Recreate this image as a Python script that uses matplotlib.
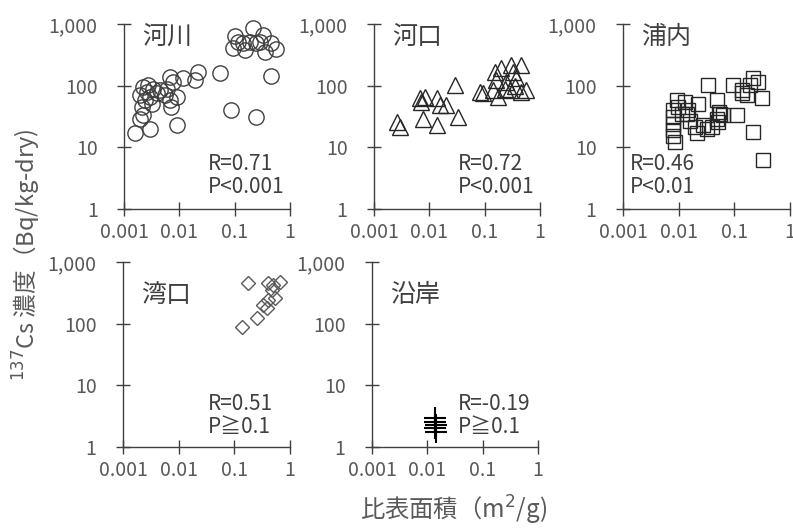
import matplotlib.pyplot as plt

plt.rcParams['font.family'] = ['Noto Sans CJK JP', 'DejaVu Sans']

# 河川 (circles)
river_x = [0.10, 0.115, 0.093, 0.141, 0.214, 0.324, 0.246, 0.186, 0.151, 0.347, 0.563, 0.458, 0.282,
           0.054, 0.458, 0.087, 0.246,
           0.0218, 0.019, 0.0117, 0.0077, 0.0067, 0.0089, 0.0067, 0.0072, 0.0055, 0.0059, 0.0089,
           0.00223, 0.00274, 0.00337, 0.00388, 0.00294, 0.00239, 0.00208, 0.00223, 0.00194,
           0.00294, 0.00158, 0.00256, 0.00194, 0.00315, 0.00446]
river_y = [638, 515, 403, 485, 851, 662, 485, 515, 378, 355, 388, 485, 515,
           158, 143, 40, 31,
           168, 123, 131, 115, 139, 66, 58, 45, 70, 90, 23,
           95, 102, 90, 75, 66, 58, 45, 33, 29,
           20, 17, 79, 70, 51, 85]

# 河口 (triangles)
estuary_x = [0.00294, 0.0026, 0.0067, 0.0083, 0.0072, 0.0135, 0.0155, 0.0204, 0.0077, 0.0135,
             0.033, 0.0288, 0.081, 0.093, 0.151, 0.200, 0.303, 0.458, 0.324, 0.163, 0.246,
             0.372, 0.563, 0.458, 0.174, 0.282, 0.141, 0.23, 0.35]
estuary_y = [21, 26, 62, 66, 55, 62, 48, 48, 29, 23,
             31, 102, 79, 75, 168, 191, 215, 215, 168, 123, 115,
             131, 85, 79, 66, 85, 85, 89, 100]

# 浦内 (squares)
inlet_x = [0.0080, 0.0080, 0.0080, 0.0080, 0.0080, 0.0086, 0.0092, 0.0098, 0.0113, 0.0130, 0.0139,
           0.0225, 0.0196, 0.0210, 0.0277, 0.0318, 0.0391, 0.048, 0.055, 0.051, 0.063, 0.110,
           0.034, 0.048, 0.095, 0.135, 0.166, 0.19, 0.218, 0.268, 0.309, 0.218, 0.330,
           0.0149, 0.016, 0.14, 0.052]
inlet_y = [40, 31, 24, 19, 15, 12, 58, 45, 35, 55, 35,
           51, 21, 17, 23, 20, 21, 29, 35, 26, 33, 33,
           102, 58, 102, 85, 70, 102, 131, 115, 62, 18, 6.2,
           40, 27, 75, 38]

# 湾口 (diamonds)
bay_x = [0.178, 0.406, 0.499, 0.659, 0.468, 0.406, 0.330, 0.536, 0.380, 0.251, 0.135]
bay_y = [452, 452, 424, 480, 351, 242, 201, 258, 178, 122, 89]

# 沿岸 (plus)
coast_x = [0.0140, 0.0135, 0.0145, 0.0140, 0.0142]
coast_y = [2.97, 2.58, 2.28, 2.02, 1.78]

panels = [
    ('河川', river_x, river_y, 'o', 11, '#404040', 'R=0.71', 'P<0.001', 0.506),
    ('河口', estuary_x, estuary_y, '^', 11.5, '#262626', 'R=0.72', 'P<0.001', 0.506),
    ('浦内', inlet_x, inlet_y, 's', 10, '#262626', 'R=0.46', 'P<0.01', 0.04),
    ('湾口', bay_x, bay_y, 'D', 7.5, '#595959', 'R=0.51', 'P≧0.1', 0.51),
    ('沿岸', coast_x, coast_y, '+', 16, '#000000', 'R=-0.19', 'P≧0.1', 0.518),
]

# axes rectangles in figure fraction
rects = [
    [0.1564, 0.6049, 0.2093, 0.3497],
    [0.4716, 0.6049, 0.2093, 0.3497],
    [0.7856, 0.6049, 0.2106, 0.3497],
    [0.1551, 0.1550, 0.2106, 0.3497],
    [0.4691, 0.1550, 0.2093, 0.3497],
]

title_y = [0.93, 0.93, 0.93, 0.82, 0.82]
text_y = [(0.211, 0.086), (0.211, 0.086), (0.211, 0.086), (0.20, 0.076), (0.20, 0.076)]

axis_col = '#404040'
text_col = '#595959'

fig = plt.figure(figsize=(7.93, 5.29), dpi=100)

for i, (name, xs, ys, mk, ms, col, rtxt, ptxt, tx) in enumerate(panels):
    ax = fig.add_axes(rects[i])
    if mk == '+':
        ax.plot(xs, ys, linestyle='none', marker=mk, ms=ms, mew=1.5, color=col, clip_on=False)
    else:
        ax.plot(xs, ys, linestyle='none', marker=mk, ms=ms, mfc='none', mec=col, mew=1, clip_on=False)
    ax.set_xscale('log')
    ax.set_yscale('log')
    ax.set_xlim(0.001, 1)
    ax.set_ylim(1, 1000)
    ax.set_xticks([0.001, 0.01, 0.1, 1])
    ax.set_xticklabels(['0.001', '0.01', '0.1', '1'])
    ax.set_yticks([1, 10, 100, 1000])
    ax.set_yticklabels(['1', '10', '100', '1,000'])
    ax.minorticks_off()
    ax.patch.set_visible(False)
    for s in ['top', 'right']:
        ax.spines[s].set_visible(False)
    for s in ['left', 'bottom']:
        ax.spines[s].set_color(axis_col)
        ax.spines[s].set_linewidth(1)
    ax.tick_params(axis='both', direction='inout', length=10, width=1, color=axis_col,
                   labelcolor=text_col, labelsize=14)
    ax.tick_params(axis='y', pad=14)
    ax.tick_params(axis='x', pad=4)
    ax.text(0.11, title_y[i], name, transform=ax.transAxes, fontsize=18, color=axis_col,
            va='center', ha='left')
    ax.text(tx, text_y[i][0], rtxt, transform=ax.transAxes, fontsize=15, color=axis_col,
            va='baseline', ha='left')
    ax.text(tx, text_y[i][1], ptxt, transform=ax.transAxes, fontsize=15, color=axis_col,
            va='baseline', ha='left')

fig.text(0.034, 0.518, '$^{137}$Cs 濃度（Bq/kg-dry)', rotation=90, fontsize=17, color=text_col,
         ha='center', va='center')
fig.text(0.572, 0.036, '比表面積（m$^2$/g)', fontsize=17.5, color=text_col, ha='center', va='center')

fig.savefig('out.png', dpi=100)
